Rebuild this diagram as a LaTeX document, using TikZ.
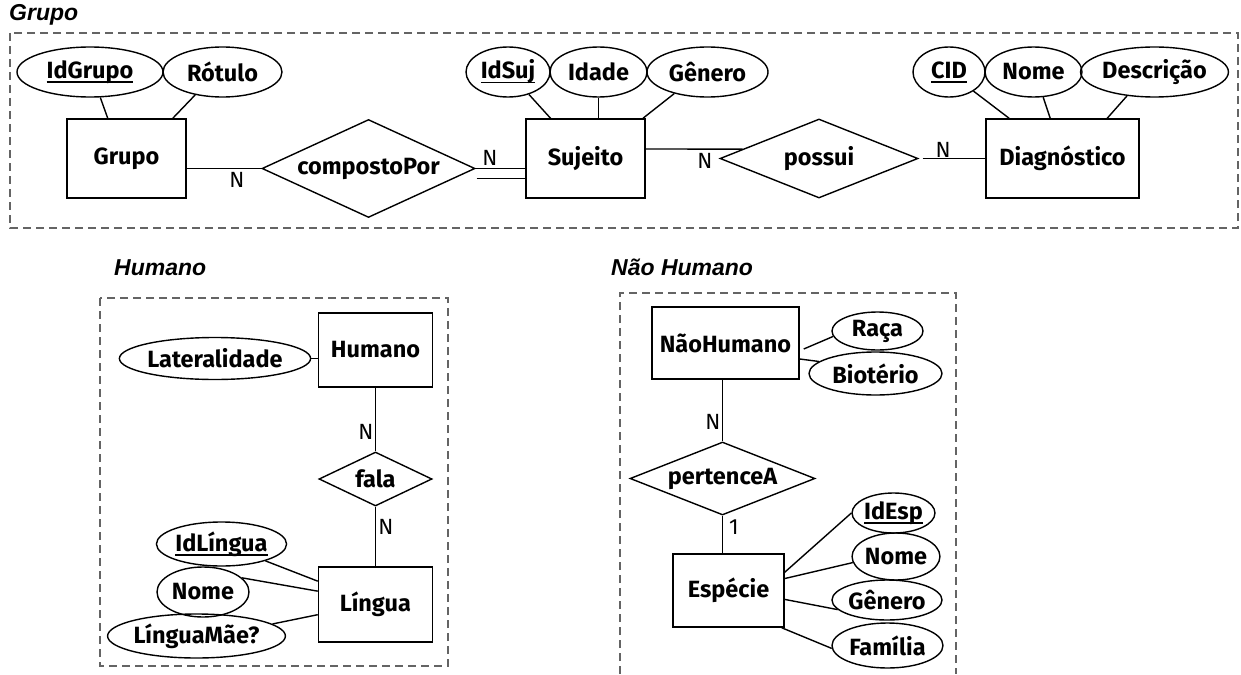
\documentclass[tikz,border=0pt]{standalone}
\usepackage{fontspec}
\setmainfont{Fira Sans}
\newfontfamily\titlefamily{Liberation Sans}
\usetikzlibrary{shapes.geometric,calc}

\definecolor{framegray}{RGB}{100,100,100}
\newcommand\erlabel{\fontsize{23.5}{28}\selectfont\bfseries}
\newcommand\cardlabel{\fontsize{22}{26}\selectfont}
\newcommand\areatitle{\fontsize{23}{27}\selectfont\titlefamily\bfseries\itshape}
% primary key: text with a thick rule under it
\newcommand\keyattr[1]{\setbox0\hbox{#1}\rlap{\rule[-4.5pt]{\wd0}{1.6pt}}\box0}

\begin{document}
\begin{tikzpicture}[x=1pt,y=-1pt,
  sz/.style 2 args={minimum width=#1pt, minimum height=#2pt},
  ent/.style={draw, rectangle, line width=1.5pt, inner sep=0pt, font=\erlabel},
  att/.style={draw, ellipse, line width=1.4pt, inner sep=0pt, font=\erlabel},
  rel/.style={draw, diamond, shape aspect=2.5, line width=1.4pt, inner sep=0pt, font=\erlabel},
  link/.style={line width=1.4pt},
  card/.style={font=\cardlabel, inner sep=0pt},
  frame/.style={draw=framegray, line width=1.6pt, dash pattern=on 8pt off 5pt},
  areahead/.style={font=\areatitle, anchor=base west, inner sep=0pt}]
\useasboundingbox (0,0) rectangle (1241,674);

% ---------- area frames and headings ----------
\draw[frame] (10,33) rectangle (1238,228);
\draw[frame] (100,298) rectangle (448,666);
\draw[frame] (620,674) -- (620,293) -- (956,293) -- (956,674);
\node[areahead] (tGrupo) at (9,21) {Grupo};
\node[areahead] (tHumano) at (114,275) {Humano};
\node[areahead] (tNaoHumano) at (611,275) {Não Humano};

% ---------- Grupo area ----------
\node[ent, sz={119}{79}] (G) at (126.5,158.5) {Grupo};
\node[att, sz={146}{50}] (Gid) at (90,72) {\keyattr{IdGrupo}};
\node[att, sz={119}{50}] (Grot) at (222.5,72) {Rótulo};
\node[rel, sz={213}{98}] (CP) at (368.5,168.5) {compostoPor};
\node[ent, sz={119}{79}] (S) at (585.5,158.5) {Sujeito};
\node[att, sz={84}{50}] (Sid) at (508,72) {\keyattr{IdSuj}};
\node[att, sz={97}{50}] (Sida) at (598.5,72) {Idade};
\node[att, sz={121}{50}] (Sgen) at (707.5,72) {Gênero};
\node[rel, sz={198}{79}] (P) at (819,158.5) {possui};
\node[ent, sz={153}{79}] (D) at (1062.5,158.5) {Diagnóstico};
\node[att, sz={72}{50}] (Dcid) at (949,72) {\keyattr{CID}};
\node[att, sz={97}{50}] (Dnome) at (1033.5,72) {Nome};
\node[att, sz={145}{50}] (Ddesc) at (1154.5,72) {Descrição};

\draw[link] (Gid.-68.2) -- (G.115.1);
\draw[link] (Grot.220.2) -- (G.41);
\draw[link] (G.east |- CP.west) -- (CP.west);
\draw[link] (CP.east) -- (CP.east -| S.west);
\draw[link] ($(CP.east)+(1,10)$) -- ($(CP.east -| S.west)+(0,10)$);
\draw[link] (Sid.-47.7) -- (S.131.9);
\draw[link] (Sida.south) -- (Sida.south |- S.north);
\draw[link] (Sgen.213.7) -- (S.35);
\draw[link] ([yshift=9.5pt]S.east) -- (P.173.4);
\draw[link] ([xshift=4pt]P.east) -- (P.east -| D.west);
\draw[link] (Dcid.-38.7) -- (D.143.6);
\draw[link] (Dnome.-69.2) -- (D.107.6);
\draw[link] (Ddesc.221) -- (D.42.9);

\node[card] (nG) at (237,180) {N};
\node[card] (nS) at (490,158) {N};
\node[card] (nP) at (705,161) {N};
\node[card] (nD) at (943,150) {N};

% ---------- Humano area ----------
\node[ent, sz={114}{74}] (H) at (375.5,350) {Humano};
\node[att, sz={162}{42}] (Lat) at (215,358.5) {Lateralidade};
\node[rel, sz={113}{54}] (Fala) at (375.5,479) {fala};
\node[ent, sz={114}{75}] (L) at (375.5,604.5) {Língua};
\node[att, sz={129}{44}] (Lid) at (221.5,544) {\keyattr{IdLíngua}};
\node[att, sz={92}{50}] (Lnome) at (203,592) {Nome};
\node[att, sz={171}{44}] (Lmae) at (196.5,636) {LínguaMãe?};

\draw[link] (Lat.east) -- (Lat.east -| H.west);
\draw[link] (H.south) -- (Fala.north);
\draw[link] (Fala.south) -- (L.north);
\draw[link] (Lid.-21.2) -- (L.158.5);
\draw[link] (Lnome.20.6) -- (L.167.6);
\draw[link] (Lmae.9.6) -- (L.190.4);

\node[card] (nH) at (366,432) {N};
\node[card] (nL) at (386,527) {N};

% ---------- Não Humano area ----------
\node[ent, sz={147}{72}] (NH) at (725.5,343) {NãoHumano};
\node[att, sz={91}{38}] (Raca) at (877.5,331) {Raça};
\node[att, sz={133}{43}] (Bio) at (875.5,373.5) {Biotério};
\node[rel, sz={185}{73}] (PA) at (722.5,478.5) {pertenceA};
\node[ent, sz={111}{73}] (E) at (728.5,590.5) {Espécie};
\node[att, sz={79}{40}] (Eid) at (893.5,513) {\keyattr{IdEsp}};
\node[att, sz={82}{47}] (Enome) at (896,556.5) {Nome};
\node[att, sz={110}{40}] (Egen) at (887,600) {Gênero};
\node[att, sz={111}{45}] (Efam) at (887.5,645.5) {Família};

\draw[link] ([shift={(4pt,-6pt)}]NH.east) -- (Raca.187.5);
\draw[link] ([yshift=-16pt]NH.east) -- (Bio.168.5);
\draw[link] (PA.north |- NH.south) -- (PA.north);
\draw[link] (PA.south) -- (PA.south |- E.north);
\draw[link] (Eid.west) -- (E.18.4);
\draw[link] (Enome.188) -- (E.12.7);
\draw[link] (Egen.191.5) -- (E.-9.7);
\draw[link] (Efam.183.8) -- (E.-35.3);

\node[card] (nNH) at (713,422) {N};
\node[card] (nE) at (734,527) {1};
\end{tikzpicture}
\end{document}
